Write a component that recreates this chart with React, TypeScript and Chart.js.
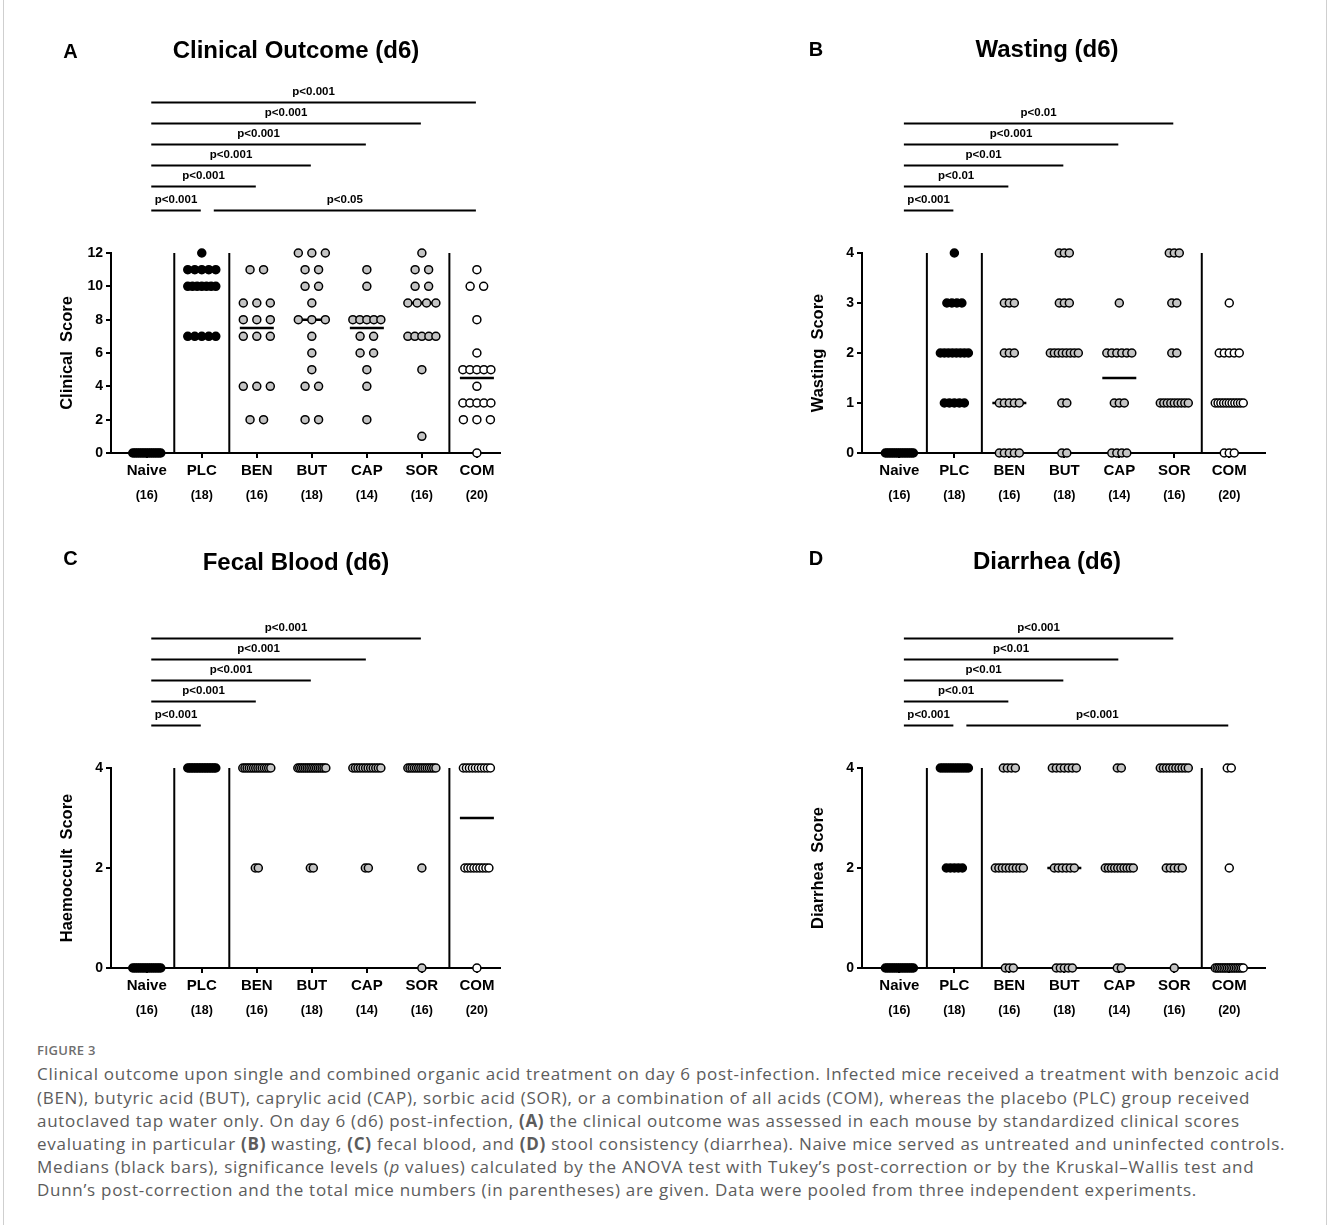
import React, { useEffect, useRef } from 'react';
import { Chart, registerables } from 'chart.js';

Chart.register(...registerables);

const FONT = '"Liberation Sans", Arial, Helvetica, sans-serif';

const groups = ['Naive', 'PLC', 'BEN', 'BUT', 'CAP', 'SOR', 'COM'];
const groupFill = ['#000000', '#000000', '#c4c4c4', '#c4c4c4', '#c4c4c4', '#c4c4c4', '#ffffff'];
const separatorsAt = [0.5, 1.5, 5.5];

// Panel A: clinical score per mouse, one array per group (Naive, PLC, BEN, BUT, CAP, SOR, COM)
const clinicalScores: number[][] = [
  [0, 0, 0, 0, 0, 0, 0, 0, 0, 0, 0, 0, 0, 0, 0, 0],
  [12, 11, 11, 11, 11, 11, 10, 10, 10, 10, 10, 10, 10, 7, 7, 7, 7, 7],
  [11, 11, 9, 9, 9, 8, 8, 8, 7, 7, 7, 4, 4, 4, 2, 2],
  [12, 12, 12, 11, 11, 10, 10, 9, 8, 8, 8, 7, 6, 5, 4, 4, 2, 2],
  [11, 10, 8, 8, 8, 8, 8, 7, 7, 6, 6, 5, 4, 2],
  [12, 11, 11, 10, 10, 9, 9, 9, 9, 7, 7, 7, 7, 7, 5, 1],
  [11, 10, 10, 8, 6, 5, 5, 5, 5, 5, 4, 3, 3, 3, 3, 3, 2, 2, 2, 0],
];
const clinicalTicks = [0, 2, 4, 6, 8, 10, 12];
const clinicalBrackets = [
  { from: 0, to: 1, label: 'p<0.001', level: 0 },
  { from: 1, to: 6, label: 'p<0.05', level: 0 },
  { from: 0, to: 2, label: 'p<0.001', level: 1 },
  { from: 0, to: 3, label: 'p<0.001', level: 2 },
  { from: 0, to: 4, label: 'p<0.001', level: 3 },
  { from: 0, to: 5, label: 'p<0.001', level: 4 },
  { from: 0, to: 6, label: 'p<0.001', level: 5 },
];

// Panel B: wasting score
const wastingScores: number[][] = [
  [0, 0, 0, 0, 0, 0, 0, 0, 0, 0, 0, 0, 0, 0, 0, 0],
  [4, 3, 3, 3, 3, 2, 2, 2, 2, 2, 2, 2, 2, 1, 1, 1, 1, 1],
  [3, 3, 3, 2, 2, 2, 1, 1, 1, 1, 1, 0, 0, 0, 0, 0],
  [4, 4, 4, 3, 3, 3, 2, 2, 2, 2, 2, 2, 2, 2, 1, 1, 0, 0],
  [3, 2, 2, 2, 2, 2, 2, 1, 1, 1, 0, 0, 0, 0],
  [4, 4, 4, 3, 3, 2, 2, 1, 1, 1, 1, 1, 1, 1, 1, 1],
  [3, 2, 2, 2, 2, 2, 1, 1, 1, 1, 1, 1, 1, 1, 1, 1, 1, 0, 0, 0],
];
const wastingTicks = [0, 1, 2, 3, 4];
const wastingBrackets = [
  { from: 0, to: 1, label: 'p<0.001', level: 0 },
  { from: 0, to: 2, label: 'p<0.01', level: 1 },
  { from: 0, to: 3, label: 'p<0.01', level: 2 },
  { from: 0, to: 4, label: 'p<0.001', level: 3 },
  { from: 0, to: 5, label: 'p<0.01', level: 4 },
];

// Panel C: haemoccult score
const haemoccultScores: number[][] = [
  [0, 0, 0, 0, 0, 0, 0, 0, 0, 0, 0, 0, 0, 0, 0, 0],
  [4, 4, 4, 4, 4, 4, 4, 4, 4, 4, 4, 4, 4, 4, 4, 4, 4, 4],
  [4, 4, 4, 4, 4, 4, 4, 4, 4, 4, 4, 4, 4, 4, 2, 2],
  [4, 4, 4, 4, 4, 4, 4, 4, 4, 4, 4, 4, 4, 4, 4, 4, 2, 2],
  [4, 4, 4, 4, 4, 4, 4, 4, 4, 4, 4, 4, 2, 2],
  [4, 4, 4, 4, 4, 4, 4, 4, 4, 4, 4, 4, 4, 4, 2, 0],
  [4, 4, 4, 4, 4, 4, 4, 4, 4, 4, 2, 2, 2, 2, 2, 2, 2, 2, 2, 0],
];
const haemoccultTicks = [0, 2, 4];
const haemoccultBrackets = [
  { from: 0, to: 1, label: 'p<0.001', level: 0 },
  { from: 0, to: 2, label: 'p<0.001', level: 1 },
  { from: 0, to: 3, label: 'p<0.001', level: 2 },
  { from: 0, to: 4, label: 'p<0.001', level: 3 },
  { from: 0, to: 5, label: 'p<0.001', level: 4 },
];

// Panel D: diarrhea score
const diarrheaScores: number[][] = [
  [0, 0, 0, 0, 0, 0, 0, 0, 0, 0, 0, 0, 0, 0, 0, 0],
  [4, 4, 4, 4, 4, 4, 4, 4, 4, 4, 4, 4, 4, 2, 2, 2, 2, 2],
  [4, 4, 4, 4, 2, 2, 2, 2, 2, 2, 2, 2, 2, 0, 0, 0],
  [4, 4, 4, 4, 4, 4, 4, 2, 2, 2, 2, 2, 2, 0, 0, 0, 0, 0],
  [4, 4, 2, 2, 2, 2, 2, 2, 2, 2, 2, 2, 0, 0],
  [4, 4, 4, 4, 4, 4, 4, 4, 4, 4, 2, 2, 2, 2, 2, 0],
  [4, 4, 2, 0, 0, 0, 0, 0, 0, 0, 0, 0, 0, 0, 0, 0, 0, 0, 0, 0],
];
const diarrheaTicks = [0, 2, 4];
const diarrheaBrackets = [
  { from: 0, to: 1, label: 'p<0.001', level: 0 },
  { from: 1, to: 6, label: 'p<0.001', level: 0 },
  { from: 0, to: 2, label: 'p<0.01', level: 1 },
  { from: 0, to: 3, label: 'p<0.01', level: 2 },
  { from: 0, to: 4, label: 'p<0.01', level: 3 },
  { from: 0, to: 5, label: 'p<0.001', level: 4 },
];

type Bracket = { from: number; to: number; label: string; level: number };
type PanelSpec = {
  letter: string;
  title: string;
  yTitle: string;
  values: number[][];
  ticks: number[];
  brackets: Bracket[];
  step: number;
  left: number;
  top: number;
  side: 'left' | 'right';
  titleY: number;
  letterY: number;
};

const PX = 55; // px per category
const CANVAS_W = 664;
const CANVAS_H = 515;
const LEVEL_OFFSETS = [42.5, 66.5, 87.5, 108.5, 129.5, 150.5];

const panels: PanelSpec[] = [
  { letter: 'A', title: 'Clinical Outcome (d6)', yTitle: 'Clinical  Score', values: clinicalScores, ticks: clinicalTicks, brackets: clinicalBrackets, step: 13.5, left: 0, top: 0, side: 'left', titleY: 51.5, letterY: 52 },
  { letter: 'B', title: 'Wasting (d6)', yTitle: 'Wasting  Score', values: wastingScores, ticks: wastingTicks, brackets: wastingBrackets, step: 5, left: 664, top: 0, side: 'right', titleY: 50.5, letterY: 50 },
  { letter: 'C', title: 'Fecal Blood (d6)', yTitle: 'Haemoccult  Score', values: haemoccultScores, ticks: haemoccultTicks, brackets: haemoccultBrackets, step: 3, left: 0, top: 515, side: 'left', titleY: 48.5, letterY: 44 },
  { letter: 'D', title: 'Diarrhea (d6)', yTitle: 'Diarrhea  Score', values: diarrheaScores, ticks: diarrheaTicks, brackets: diarrheaBrackets, step: 4, left: 664, top: 515, side: 'right', titleY: 47.5, letterY: 44 },
];

function spread(values: number[], step: number, maxSpan: number): number[] {
  const counts = new Map<number, number>();
  values.forEach((v) => counts.set(v, (counts.get(v) || 0) + 1));
  const seen = new Map<number, number>();
  return values.map((v) => {
    const n = counts.get(v) || 1;
    const k = seen.get(v) || 0;
    seen.set(v, k + 1);
    if (n === 1) return 0;
    const s = Math.min(step, maxSpan / (n - 1));
    return (k - (n - 1) / 2) * s;
  });
}

function median(v: number[]): number {
  const s = [...v].sort((a, b) => a - b);
  const m = s.length / 2;
  return s.length % 2 ? s[Math.floor(m)] : (s[m - 1] + s[m]) / 2;
}

function makeAnnotate(p: PanelSpec) {
  return {
    id: 'annotate' + p.letter,
    afterDraw(chart: any) {
      const { ctx, chartArea, scales } = chart;
      const xs = scales.x;
      ctx.save();
      ctx.fillStyle = '#000';
      ctx.strokeStyle = '#000';
      ctx.textAlign = 'center';
      ctx.textBaseline = 'middle';
      // group sizes
      ctx.font = `bold 12.5px ${FONT}`;
      p.values.forEach((vals, i) => {
        ctx.fillText(`(${vals.length})`, xs.getPixelForValue(i), chartArea.bottom + 42.5);
      });
      // significance brackets
      ctx.lineWidth = 2;
      ctx.font = `bold 11.5px ${FONT}`;
      p.brackets.forEach((b) => {
        const x1 = xs.getPixelForValue(b.from) + (b.from === 0 ? 4.5 : 12);
        const x2 = xs.getPixelForValue(b.to) - 1;
        const y = chartArea.top - LEVEL_OFFSETS[b.level];
        ctx.beginPath();
        ctx.moveTo(x1, y);
        ctx.lineTo(x2, y);
        ctx.stroke();
        ctx.fillText(b.label, (x1 + x2) / 2, y - 10.5);
      });
      // title
      ctx.font = `bold 24px ${FONT}`;
      ctx.fillText(p.title, chartArea.left + 185, p.titleY);
      // panel letter
      ctx.font = `bold 20px ${FONT}`;
      ctx.fillText(p.letter, p.side === 'left' ? 70.5 : 152, p.letterY);
      ctx.restore();
    },
  };
}

function makeConfig(p: PanelSpec): any {
  const isLeft = p.side === 'left';
  const xMin = isLeft ? -0.65 : -0.68;
  const xMax = isLeft ? 6.42 : 6.65;
  const yMax = p.ticks[p.ticks.length - 1];
  const datasets: any[] = [];

  separatorsAt.forEach((sx) => {
    datasets.push({
      type: 'line',
      data: [{ x: sx, y: 0 }, { x: sx, y: yMax }],
      borderColor: '#000',
      borderWidth: 2,
      pointRadius: 0,
      fill: false,
      order: 3,
      clip: false,
    });
  });

  datasets.push({
    type: 'scatter',
    data: p.values.map((v, i) => ({ x: i, y: median(v) })),
    pointStyle: 'line',
    pointRadius: 17,
    pointHoverRadius: 17,
    borderColor: '#000',
    backgroundColor: '#000',
    borderWidth: 2.5,
    order: 2,
    clip: false,
  });

  p.values.forEach((vals, gi) => {
    const offs = spread(vals, p.step / PX, 28 / PX);
    datasets.push({
      type: 'scatter',
      data: vals.map((v, k) => ({ x: gi + offs[k], y: v })),
      backgroundColor: groupFill[gi],
      borderColor: '#000',
      borderWidth: 1.5,
      pointRadius: 4,
      pointHoverRadius: 4,
      order: 1,
      clip: false,
    });
  });

  return {
    type: 'scatter',
    data: { datasets },
    options: {
      responsive: false,
      animation: false,
      events: [],
      layout: {
        autoPadding: false,
        padding: isLeft
          ? { left: 0, right: 164, top: 253, bottom: 0 }
          : { left: 87, right: 63, top: 253, bottom: 0 },
      },
      plugins: { legend: { display: false }, tooltip: { enabled: false } },
      scales: {
        x: {
          type: 'linear',
          min: xMin,
          max: xMax,
          afterBuildTicks: (ax: any) => {
            ax.ticks = groups.map((_, i) => ({ value: i }));
          },
          afterFit: (ax: any) => {
            ax.height = 62;
          },
          ticks: {
            autoSkip: false,
            maxRotation: 0,
            minRotation: 0,
            padding: 4,
            color: '#000',
            font: { family: FONT, size: 15, weight: 'bold' },
            callback: (v: any) => groups[Math.round(Number(v))] ?? '',
          },
          grid: { display: true, drawOnChartArea: false, drawTicks: true, tickLength: 5, color: '#000', lineWidth: 2 },
          border: { display: true, color: '#000', width: 2 },
        },
        y: {
          type: 'linear',
          min: 0,
          max: yMax,
          afterBuildTicks: (ax: any) => {
            ax.ticks = p.ticks.map((v) => ({ value: v }));
          },
          afterFit: (ax: any) => {
            ax.width = 111;
          },
          ticks: {
            padding: 3,
            color: '#000',
            font: { family: FONT, size: 14, weight: 'bold' },
          },
          grid: { display: true, drawOnChartArea: false, drawTicks: true, tickLength: 5, color: '#000', lineWidth: 2 },
          border: { display: true, color: '#000', width: 2 },
          title: {
            display: true,
            text: p.yTitle,
            color: '#000',
            font: { family: FONT, size: 16.5, weight: 'bold' },
            padding: { top: 58, bottom: 0 },
          },
        },
      },
    },
    plugins: [makeAnnotate(p)],
  };
}

function Panel({ spec }: { spec: PanelSpec }) {
  const ref = useRef<HTMLCanvasElement>(null);
  useEffect(() => {
    const chart = new Chart(ref.current as HTMLCanvasElement, makeConfig(spec));
    return () => chart.destroy();
  }, [spec]);
  return (
    <canvas
      ref={ref}
      width={CANVAS_W}
      height={CANVAS_H}
      style={{ position: 'absolute', left: spec.left, top: spec.top, width: CANVAS_W, height: CANVAS_H }}
    />
  );
}

const CAPTION_FONT = '"Open Sans", "Noto Sans", sans-serif';

export default function App() {
  return (
    <div style={{ position: 'absolute', left: 0, top: 0, width: 1328, height: 1225, background: '#fff', overflow: 'hidden' }}>
      {panels.map((p) => (
        <Panel key={p.letter} spec={p} />
      ))}
      <div style={{ position: 'absolute', left: 3, top: 0, width: 1, height: 1225, background: '#cfcfcf' }} />
      <div style={{ position: 'absolute', left: 1326, top: 0, width: 1, height: 1225, background: '#cfcfcf' }} />
      <div style={{ position: 'absolute', left: 37, top: 1041, fontFamily: CAPTION_FONT, color: '#5c5c5c', whiteSpace: 'nowrap' }}>
        <div style={{ fontSize: 13, fontWeight: 600, color: '#6e6e6e', lineHeight: '18px', letterSpacing: 0.3 }}>FIGURE 3</div>
        <div style={{ fontSize: 17, lineHeight: '23.2px', marginTop: 3.4, letterSpacing: 0.72 }}>
          <div>Clinical outcome upon single and combined organic acid treatment on day 6 post-infection. Infected mice received a treatment with benzoic acid</div>
          <div>(BEN), butyric acid (BUT), caprylic acid (CAP), sorbic acid (SOR), or a combination of all acids (COM), whereas the placebo (PLC) group received</div>
          <div>autoclaved tap water only. On day 6 (d6) post-infection, <b>(A)</b> the clinical outcome was assessed in each mouse by standardized clinical scores</div>
          <div>evaluating in particular <b>(B)</b> wasting, <b>(C)</b> fecal blood, and <b>(D)</b> stool consistency (diarrhea). Naive mice served as untreated and uninfected controls.</div>
          <div>Medians (black bars), significance levels (<i>p</i> values) calculated by the ANOVA test with Tukey’s post-correction or by the Kruskal–Wallis test and</div>
          <div>Dunn’s post-correction and the total mice numbers (in parentheses) are given. Data were pooled from three independent experiments.</div>
        </div>
      </div>
    </div>
  );
}
